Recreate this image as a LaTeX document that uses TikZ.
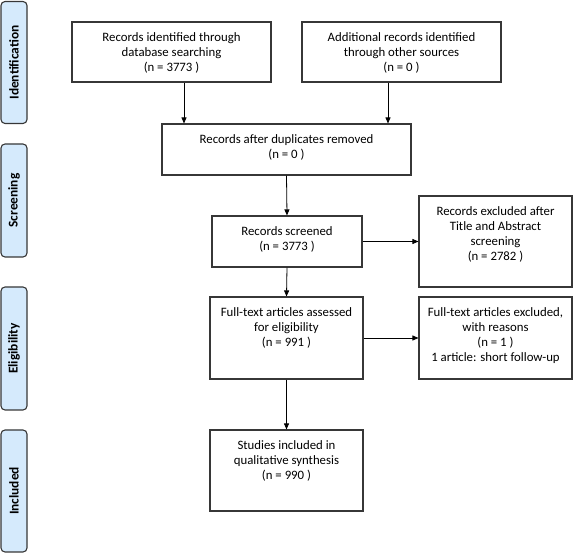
\documentclass[tikz,border=0pt]{standalone}
\usepackage{fontspec}
\setmainfont{Carlito}
\usepackage{xcolor}
\usetikzlibrary{arrows.meta,calc,positioning}
\definecolor{phasefill}{RGB}{213,234,252}
\definecolor{edge}{RGB}{55,55,55}
\tikzset{
    >={Triangle[length=6pt,width=5pt]},
    box/.style ={draw=edge, line width=1.1pt, inner sep=0pt, minimum width=153pt, minimum height=51pt},
    txt/.style ={anchor=north, align=center, inner sep=0pt, yshift=-10.5pt, font=\fontsize{12.8}{15}\selectfont},
    phase/.style={draw=edge, line width=1.1pt, fill=phasefill, rounded corners=4pt, rotate=90,
                  minimum height=26pt, inner sep=0pt, font=\bfseries\fontsize{13.4}{15}\selectfont}
}

\begin{document}
\begin{tikzpicture}[x=1pt, y=-1pt, thick]

    \useasboundingbox (0,0) rectangle (574,553);

    % Phases
    \node[phase, minimum width=122pt] (ph1) at (14,62.5) {Identification};
    \node[phase, minimum width=113pt] (ph2) at (14,200.5) {Screening};
    \node[phase, minimum width=123pt] (ph3) at (14,348.5) {Eligibility};
    \node[phase, minimum width=122pt] (ph4) at (14,491) {Included};

    % Nodes
    \node[box, minimum width=199pt, minimum height=60pt,
          label={[txt]north:{Records identified through\\database searching\\(n = 3773 )}}] (rec) at (171.5,52) {};
    \node[box, minimum width=199pt, minimum height=60pt,
          label={[txt]north:{Additional records identified\\through other sources\\(n = 0 )}}] (oth) at (401.5,52) {};
    \node[box, minimum width=249pt,
          label={[txt]north:{Records after duplicates removed\\(n = 0 )}}] (dup) at (286.5,149.5) {};
    \node[box, minimum width=150pt,
          label={[txt]north:{Records screened\\(n = 3773 )}}] (scr) at (287,241.5) {};
    \node[box, minimum height=91pt,
          label={[txt]north:{Records excluded after\\Title and Abstract\\screening\\(n = 2782 )}}] (exscr) at (495.5,241.5) {};
    \node[box, minimum height=82pt,
          label={[txt]north:{Full-text articles assessed\\for eligibility\\(n = 991 )}}] (full) at (286.5,338) {};
    \node[box, minimum height=82pt,
          label={[txt]north:{Full-text articles excluded,\\with reasons\\(n = 1 )\\1 article: short follow-up}}] (exfull) at (495.5,338) {};
    \node[box, minimum height=81pt,
          label={[txt]north:{Studies included in\\qualitative synthesis\\(n = 990 )}}] (incl) at (286.5,470.5) {};

    % Edges with arrows
    \draw[->] (rec.south) ++(12.5,0) coordinate (r1) -- (r1 |- dup.north);
    \draw[->] (oth.south) ++(-13.5,0) coordinate (o1) -- (o1 |- dup.north);
    \draw[->] (dup.south) -- (scr.north);
    \draw[->] (scr.east) -- (exscr.west);
    \draw[->] (scr.south) -- (full.north);
    \draw[->] (full.east) -- (exfull.west);
    \draw[->] (full.south) -- (incl.north);

\end{tikzpicture}
\end{document}
